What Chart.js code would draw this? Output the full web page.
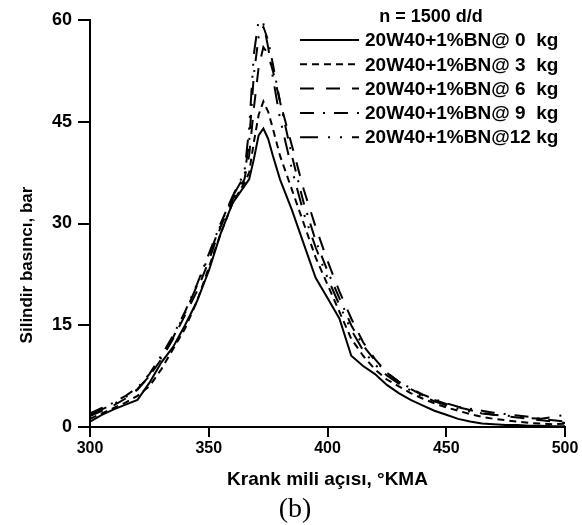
<!DOCTYPE html>
<html>
<head>
<meta charset="utf-8">
<script src="https://cdn.jsdelivr.net/npm/chart.js@4.4.0/dist/chart.umd.min.js"></script>
<style>
html,body{margin:0;padding:0;background:#fff;}
#wrap{width:582px;height:525px;}
</style>
</head>
<body>
<div id="wrap"><canvas id="c" width="582" height="525"></canvas></div>
<script>
// Crank angle (°KMA)
const angles = [300,305,310,315,320,325,330,335,340,345,350,355,360,365,367,369,371,373,375,377,380,385,390,395,400,405,410,415,420,425,430,435,440,445,450,455,460,465,470,475,480,485,490,495,500];
// Cylinder pressure (bar)
const p0kg  = [0.8,1.8,2.6,3.3,4.0,6.5,9.5,11.8,15.0,18.5,23.0,28.5,33.0,35.5,36.5,39.5,43.0,44.0,42.5,40.0,36.5,32.0,27.0,22.0,19.0,16.0,10.5,9.0,7.8,6.2,5.0,4.0,3.2,2.4,1.8,1.2,0.8,0.5,0.4,0.3,0.3,0.2,0.2,0.1,0.1];
const p3kg  = [1.2,2.0,2.8,3.6,4.6,6.0,8.5,11.5,14.5,18.5,23.5,28.5,33.0,36.0,37.5,42.0,46.0,48.0,46.5,44.0,40.0,35.0,30.0,25.0,21.0,17.0,13.0,10.5,8.5,7.0,6.0,5.0,4.2,3.5,2.9,2.4,1.9,1.5,1.2,1.0,0.8,0.6,0.5,0.4,0.5];
const p6kg  = [1.6,2.4,3.2,4.2,5.5,7.5,10.0,13.0,16.5,20.0,24.5,29.5,33.5,36.5,40.0,47.0,53.0,56.0,55.0,52.5,48.0,41.5,35.0,29.5,24.5,20.0,16.0,12.5,10.0,8.0,6.7,5.6,4.7,4.0,3.4,2.9,2.5,2.1,1.8,1.6,1.4,1.2,1.0,0.8,0.6];
const p9kg  = [2.0,2.8,3.6,4.6,5.8,7.8,10.5,13.5,17.0,21.0,25.5,30.0,34.0,37.0,42.0,52.0,57.5,59.0,57.0,53.5,48.0,40.0,33.0,27.5,23.0,19.0,15.0,12.0,9.8,8.0,6.7,5.7,4.8,4.1,3.5,3.0,2.7,2.4,2.1,1.9,1.7,1.5,1.2,1.0,0.8];
const p12kg = [1.8,2.6,3.4,4.4,5.6,7.5,10.2,13.2,16.8,20.8,25.2,29.8,34.0,37.5,44.0,55.0,60.0,59.5,56.0,51.5,45.5,38.0,31.5,26.5,22.0,18.0,14.3,11.3,9.2,7.6,6.4,5.4,4.5,3.8,3.2,2.7,2.3,2.0,1.8,1.7,1.5,1.3,1.2,1.5,1.8];

const seriesLabels = ['20W40+1%BN@ 0  kg','20W40+1%BN@ 3  kg','20W40+1%BN@ 6  kg','20W40+1%BN@ 9  kg','20W40+1%BN@12 kg'];
const legendTitle = 'n = 1500 d/d';
const xTitle = 'Krank mili açısı, °KMA';
const yTitle = 'Silindir basıncı, bar';
const panelLabel = '(b)';
const xTicks = [300,350,400,450,500];
const yTicks = [0,15,30,45,60];

const seriesData = [p0kg,p3kg,p6kg,p9kg,p12kg];
const dashes = [[], [7,5], [14,12], [14,9,2,9], [18,10,2,10,2,10]];

const datasets = seriesData.map((arr,i)=>({
  label: seriesLabels[i],
  data: arr.map((v,j)=>({x:angles[j], y:v})),
  borderColor:'#000',
  borderWidth:2,
  borderDash:dashes[i],
  pointRadius:0,
  tension:0,
  fill:false
}));

const FONT = '"Liberation Sans", Arial, sans-serif';

const textPlugin = {
  id:'customText',
  afterDraw(chart){
    const ctx = chart.ctx;
    const ca = chart.chartArea;
    ctx.save();
    ctx.fillStyle='#000';
    // legend title
    ctx.font = 'bold 18px ' + FONT;
    ctx.textBaseline='middle';
    ctx.textAlign='center';
    ctx.fillText(legendTitle, ca.right - 134, 17);
    // legend rows
    ctx.font = 'bold 19px ' + FONT;
    ctx.textAlign='left';
    chart.data.datasets.forEach((ds,i)=>{
      const y = 40 + i*24.3;
      ctx.save();
      ctx.strokeStyle='#000';
      ctx.lineWidth=2;
      ctx.setLineDash(ds.borderDash);
      ctx.beginPath();
      ctx.moveTo(ca.right-265, y);
      ctx.lineTo(ca.right-206, y);
      ctx.stroke();
      ctx.restore();
      ctx.fillText(ds.label, ca.right-200, y+1);
    });
    // y axis title
    ctx.save();
    ctx.font = 'bold 17px ' + FONT;
    ctx.translate(27, 265);
    ctx.rotate(-Math.PI/2);
    ctx.textAlign='center';
    ctx.fillText(yTitle, 0, 0);
    ctx.restore();
    // panel label
    ctx.font = '28px "Liberation Serif", "Times New Roman", serif';
    ctx.textAlign='center';
    ctx.fillText(panelLabel, 295, 510);
    ctx.restore();
  }
};

new Chart(document.getElementById('c'), {
  type:'line',
  data:{datasets},
  plugins:[textPlugin],
  options:{
    responsive:false,
    animation:false,
    devicePixelRatio:1,
    layout:{padding:{left:0,right:17,top:20,bottom:0}},
    plugins:{
      legend:{display:false},
      tooltip:{enabled:false}
    },
    scales:{
      x:{
        type:'linear',
        min:300,max:500,
        afterBuildTicks(s){ s.ticks = xTicks.map(v=>({value:v})); },
        afterFit(s){ s.height = 525 - 427; },
        grid:{display:true,drawOnChartArea:false,drawTicks:true,tickLength:10,color:'#000',lineWidth:2},
        border:{display:true,color:'#000',width:2},
        ticks:{color:'#000',font:{family:FONT,size:16,weight:'bold'},padding:2,maxRotation:0},
        title:{display:true,text:xTitle,color:'#000',font:{family:FONT,size:19,weight:'bold'},padding:{top:2,bottom:34}}
      },
      y:{
        type:'linear',
        min:0,max:60,
        afterBuildTicks(s){ s.ticks = yTicks.map(v=>({value:v})); },
        afterFit(s){ s.width = 90; },
        grid:{display:true,drawOnChartArea:false,drawTicks:true,tickLength:12,color:'#000',lineWidth:2},
        border:{display:true,color:'#000',width:2},
        ticks:{color:'#000',font:{family:FONT,size:18,weight:'bold'},padding:6},
        title:{display:false}
      }
    }
  }
});
</script>
</body>
</html>
